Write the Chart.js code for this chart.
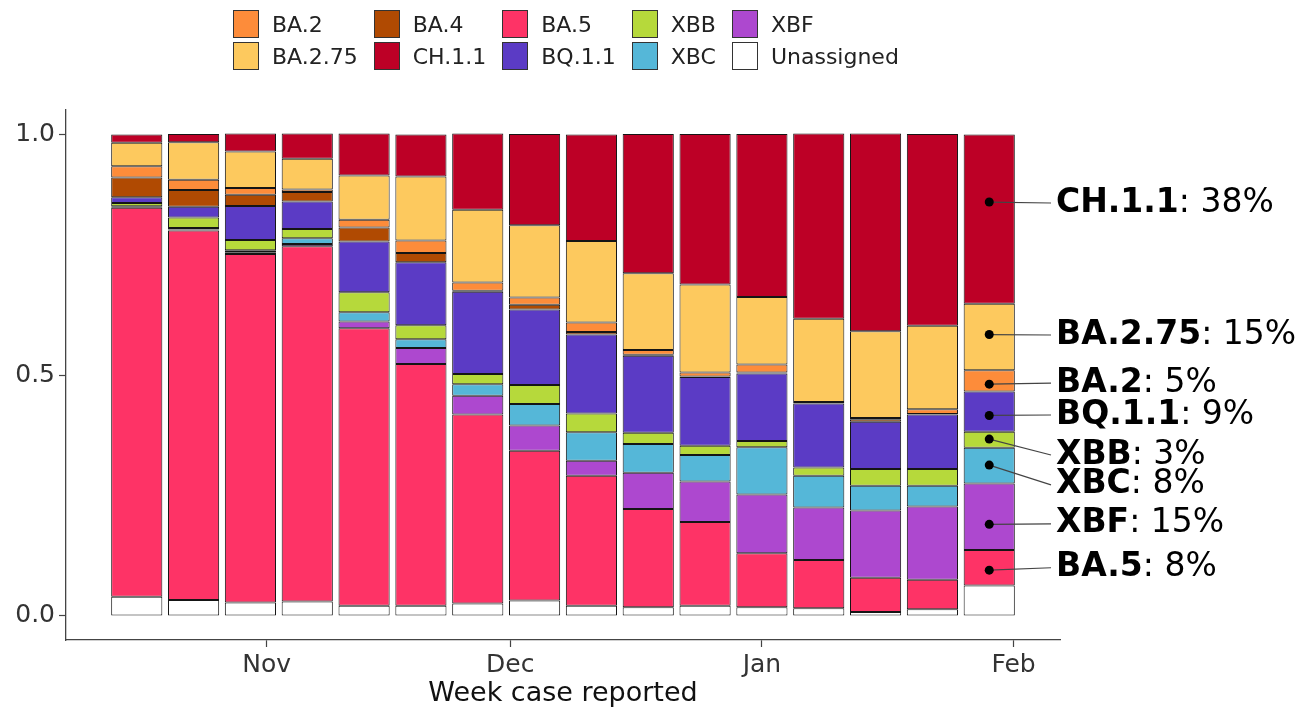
<!DOCTYPE html>
<html>
<head>
<meta charset="utf-8">
<script src="https://cdn.jsdelivr.net/npm/chart.js@4.4.1/dist/chart.umd.min.js"></script>
<style>
  html, body { margin: 0; padding: 0; background: #fff; }
  #wrap { position: relative; width: 1316px; height: 710px; }
  #legend {
    position: absolute; left: 233px; top: 8px;
    display: grid; grid-auto-flow: column; grid-template-rows: 32px 32px;
    column-gap: 16px;
    font-family: "DejaVu Sans"; font-size: 22px; color: #222;
  }
  .item { display: flex; align-items: center; }
  .box { width: 26px; height: 28px; box-sizing: border-box; border: 1px solid #333; margin-right: 13px; }
</style>
</head>
<body>
<div id="wrap">
  <canvas id="chart" width="1316" height="710"></canvas>
  <div id="legend"></div>
</div>
<script>
// weeks (start date of reporting week)
const weeks = ['2022-10-16', '2022-10-23', '2022-10-30', '2022-11-06', '2022-11-13', '2022-11-20',
  '2022-11-27', '2022-12-04', '2022-12-11', '2022-12-18', '2022-12-25', '2023-01-01',
  '2023-01-08', '2023-01-15', '2023-01-22', '2023-01-29'];

// share of cases per lineage, one value per week
const unassigned = [0.040, 0.033, 0.028, 0.030, 0.021, 0.021, 0.026, 0.032, 0.021, 0.018, 0.021, 0.018, 0.016, 0.008, 0.014, 0.063];
const ba5    = [0.807, 0.767, 0.723, 0.737, 0.576, 0.502, 0.392, 0.311, 0.270, 0.204, 0.174, 0.112, 0.100, 0.071, 0.061, 0.074];
const xbf    = [0.000, 0.002, 0.004, 0.005, 0.014, 0.033, 0.039, 0.052, 0.031, 0.075, 0.084, 0.122, 0.109, 0.140, 0.152, 0.138];
const xbc    = [0.003, 0.003, 0.004, 0.012, 0.019, 0.018, 0.024, 0.045, 0.059, 0.060, 0.055, 0.098, 0.066, 0.051, 0.043, 0.074];
const xbb    = [0.007, 0.022, 0.021, 0.019, 0.042, 0.029, 0.021, 0.039, 0.039, 0.023, 0.019, 0.013, 0.017, 0.035, 0.035, 0.033];
const bq11   = [0.012, 0.022, 0.071, 0.057, 0.105, 0.131, 0.171, 0.157, 0.164, 0.160, 0.143, 0.140, 0.133, 0.098, 0.113, 0.084];
const ba4    = [0.041, 0.035, 0.023, 0.020, 0.029, 0.019, 0.002, 0.010, 0.005, 0.002, 0.001, 0.002, 0.001, 0.005, 0.001, 0.000];
const ba2    = [0.023, 0.021, 0.014, 0.005, 0.016, 0.026, 0.017, 0.015, 0.020, 0.010, 0.008, 0.017, 0.002, 0.003, 0.010, 0.044];
const ba275  = [0.049, 0.078, 0.076, 0.064, 0.092, 0.133, 0.151, 0.150, 0.169, 0.159, 0.183, 0.140, 0.173, 0.180, 0.173, 0.138];
const ch11   = [0.017, 0.017, 0.037, 0.052, 0.087, 0.087, 0.158, 0.189, 0.221, 0.289, 0.312, 0.338, 0.384, 0.410, 0.398, 0.351];

// tick labels
const monthTicks = ['2022-11-01', '2022-12-01', '2023-01-01', '2023-02-01'];
const monthLabels = ['Nov', 'Dec', 'Jan', 'Feb'];
const yTicks = [0, 0.5, 1.0];

// callouts on the latest week
const calloutNames = ['CH.1.1', 'BA.2.75', 'BA.2', 'BQ.1.1', 'XBB', 'XBC', 'XBF', 'BA.5'];
const calloutPct   = ['38%', '15%', '5%', '9%', '3%', '8%', '15%', '8%'];
const calloutDotY  = [0.859, 0.584, 0.481, 0.416, 0.367, 0.313, 0.190, 0.095];
const calloutTextY = [0.857, 0.583, 0.483, 0.417, 0.334, 0.272, 0.191, 0.100];

// stacking order bottom -> top
const series = [
  ['Unassigned', unassigned, '#ffffff'],
  ['BA.5', ba5, '#fe3366'],
  ['XBF', xbf, '#ad48cf'],
  ['XBC', xbc, '#55b7d8'],
  ['XBB', xbb, '#b6d93b'],
  ['BQ.1.1', bq11, '#5b3bc5'],
  ['BA.4', ba4, '#b04a02'],
  ['BA.2', ba2, '#fd8c3a'],
  ['BA.2.75', ba275, '#fdc95e'],
  ['CH.1.1', ch11, '#bd0026']
];
const legendOrder = ['BA.2', 'BA.2.75', 'BA.4', 'CH.1.1', 'BA.5', 'BQ.1.1', 'XBB', 'XBC', 'XBF', 'Unassigned'];

const DAY = 86400000;
const toDay = s => Date.parse(s + 'T00:00:00Z') / DAY;
const weekDays = weeks.map(toDay);
const halfBar = 7 * 0.9 / 2;
const lo = weekDays[0] - halfBar;
const hi = weekDays[weekDays.length - 1] + halfBar;
const pad = (hi - lo) * 0.05;

// ---- legend (html) ----
const legendEl = document.getElementById('legend');
legendOrder.forEach(name => {
  const s = series.find(r => r[0] === name);
  const item = document.createElement('div');
  item.className = 'item';
  item.innerHTML = `<span class="box" style="background:${s[2]}"></span><span>${name}</span>`;
  legendEl.appendChild(item);
});

// ---- callout labels ----
const callouts = {
  id: 'callouts',
  afterDatasetsDraw(chart) {
    const { ctx, scales: { x, y }, chartArea } = chart;
    const px = x.getPixelForValue(weekDays[weekDays.length - 1]);
    const tx = chartArea.right - 4;
    ctx.save();
    calloutNames.forEach((name, i) => {
      const dy = y.getPixelForValue(calloutDotY[i]);
      const ty = y.getPixelForValue(calloutTextY[i]);
      ctx.strokeStyle = '#444';
      ctx.lineWidth = 1.2;
      ctx.beginPath();
      ctx.moveTo(px, dy);
      ctx.lineTo(tx - 5, ty);
      ctx.stroke();
      ctx.fillStyle = '#000';
      ctx.beginPath();
      ctx.arc(px, dy, 4.5, 0, Math.PI * 2);
      ctx.fill();
      ctx.textBaseline = 'middle';
      ctx.textAlign = 'left';
      ctx.font = 'bold 33px "DejaVu Sans"';
      ctx.fillText(name, tx, ty);
      const w = ctx.measureText(name).width;
      ctx.font = '33px "DejaVu Sans"';
      ctx.fillText(': ' + calloutPct[i], tx + w, ty);
    });
    ctx.restore();
  }
};

new Chart(document.getElementById('chart'), {
  type: 'bar',
  data: {
    datasets: series.map(([name, vals, colour]) => ({
      label: name,
      data: weekDays.map((d, i) => ({ x: d, y: vals[i] })),
      backgroundColor: colour,
      borderColor: '#151515',
      borderWidth: 1,
      borderSkipped: false,
      categoryPercentage: 1,
      barPercentage: 0.9
    }))
  },
  options: {
    responsive: false,
    animation: false,
    layout: { padding: { top: 110, right: 256, left: 0, bottom: 0 } },
    plugins: { legend: { display: false }, tooltip: { enabled: false } },
    scales: {
      x: {
        type: 'linear',
        stacked: true,
        offset: false,
        min: lo - pad,
        max: hi + pad,
        afterBuildTicks: s => { s.ticks = monthTicks.map(m => ({ value: toDay(m) })); },
        ticks: {
          callback: (v, i) => monthLabels[i],
          font: { family: 'DejaVu Sans', size: 25 },
          color: '#333',
          padding: 3,
          maxRotation: 0,
          autoSkip: false
        },
        grid: { offset: false, drawOnChartArea: false, drawTicks: true, tickLength: 7, tickColor: '#444', tickWidth: 1.2 },
        border: { color: '#444', width: 1.3 },
        title: {
          display: true,
          text: 'Week case reported',
          font: { family: 'DejaVu Sans', size: 27 },
          color: '#111',
          padding: { top: 0, bottom: 0 }
        },
        afterFit: s => { s.height = 70; }
      },
      y: {
        stacked: true,
        min: -0.05,
        max: 1.05,
        afterBuildTicks: s => { s.ticks = yTicks.map(v => ({ value: v })); },
        ticks: {
          callback: v => v.toFixed(1),
          font: { family: 'DejaVu Sans', size: 25 },
          color: '#333',
          padding: 4
        },
        grid: { drawOnChartArea: false, drawTicks: true, tickLength: 7, tickColor: '#444', tickWidth: 1.2 },
        border: { color: '#444', width: 1.3 },
        afterFit: s => { s.width = 66; }
      }
    }
  },
  plugins: [callouts]
});
</script>
</body>
</html>
